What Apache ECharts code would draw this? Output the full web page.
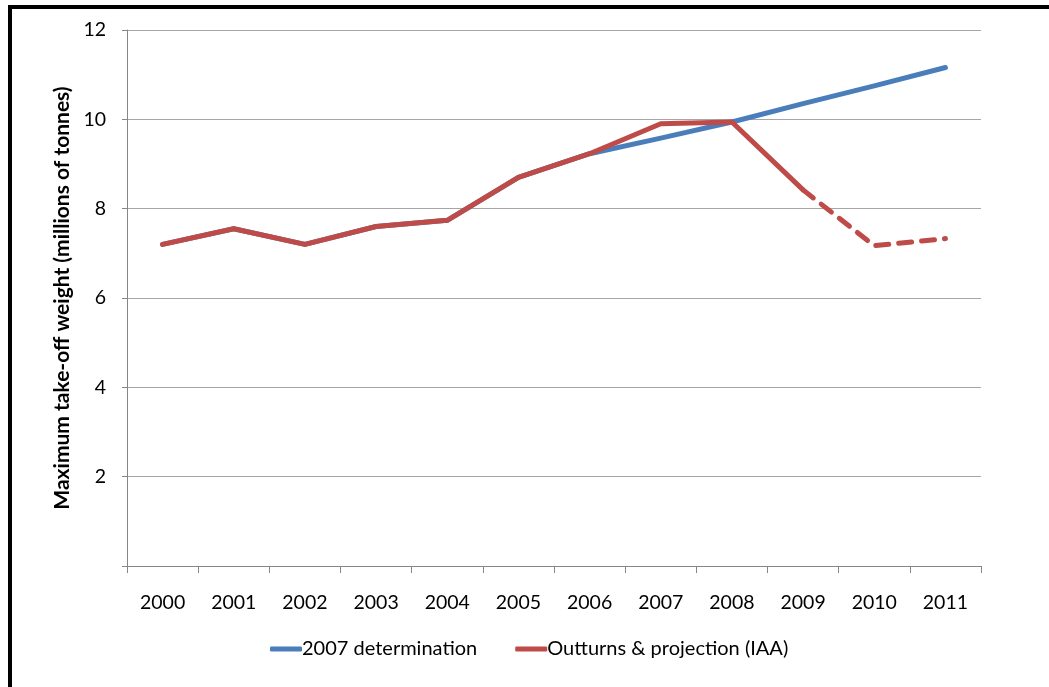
<!DOCTYPE html>
<html>
<head>
<meta charset="utf-8">
<script src="https://cdn.jsdelivr.net/npm/echarts@6/dist/echarts.min.js"></script>
<style>
  html, body { margin: 0; padding: 0; background: #ffffff; }
  #chart { position: absolute; left: 0; top: 0; width: 1049px; height: 687px; }
  #frame {
    position: absolute; left: 8px; top: 5px; width: 1100px; height: 720px;
    border-top: 4px solid #000; border-left: 4px solid #000; pointer-events: none;
  }
</style>
</head>
<body>
<div id="chart"></div>
<div id="frame"></div>
<script>
// Years on the category axis
const years = ['2000', '2001', '2002', '2003', '2004', '2005', '2006', '2007', '2008', '2009', '2010', '2011'];

// 2007 determination (millions of tonnes MTOW)
const determination2007 = [7.20, 7.55, 7.20, 7.60, 7.74, 8.70, 9.23, 9.58, 9.94, 10.35, 10.75, 11.16];

// Outturns (solid) and IAA projection (dashed) — they share the 2009 point
const outturns = [7.20, 7.55, 7.20, 7.60, 7.74, 8.70, 9.23, 9.90, 9.94, 8.42, null, null];
const projection = [null, null, null, null, null, null, null, null, null, 8.42, 7.17, 7.33];

// Value-axis range
const yMin = 0, yMax = 12, yStep = 2;

const FONT = 'Lato, "Noto Sans", sans-serif';
const BLUE = '#4a7ebb';
const RED = '#be4b48';
const AXIS = '#868686';

const chart = echarts.init(document.getElementById('chart'), null, { renderer: 'canvas' });

chart.setOption({
  animation: false,
  backgroundColor: '#ffffff',
  textStyle: { fontFamily: FONT },
  grid: { left: 127, right: 68, top: 30, bottom: 121, containLabel: false },
  legend: {
    left: 265,
    top: 634,
    data: [
      { name: '2007 determination', itemStyle: { color: BLUE } },
      { name: 'Outturns & projection (IAA)', itemStyle: { color: RED } }
    ],
    icon: 'roundRect',
    itemWidth: 32,
    itemHeight: 5,
    itemGap: 38,
    textStyle: { fontFamily: FONT, fontSize: 20, color: '#000', padding: [0, 0, 0, -5] }
  },
  xAxis: {
    type: 'category',
    data: years,
    boundaryGap: true,
    axisLine: { lineStyle: { color: AXIS, width: 1 } },
    axisTick: { show: true, interval: 0, length: 7, lineStyle: { color: AXIS } },
    axisLabel: { color: '#000', fontSize: 19.5, fontFamily: FONT, margin: 27, interval: 0 },
    splitLine: { show: false }
  },
  yAxis: {
    type: 'value',
    min: yMin,
    max: yMax,
    interval: yStep,
    name: 'Maximum take-off weight (millions of tonnes)',
    nameLocation: 'middle',
    nameRotate: 90,
    nameGap: 54,
    nameTextStyle: { color: '#000', fontSize: 21, fontWeight: 'bold', fontFamily: FONT },
    axisLine: { show: true, lineStyle: { color: AXIS, width: 1 } },
    axisTick: { show: true, length: 5, lineStyle: { color: AXIS } },
    axisLabel: {
      color: '#000', fontSize: 19.5, fontFamily: FONT, margin: 21,
      formatter: v => (v === 0 ? '' : String(v))
    },
    splitLine: { show: true, lineStyle: { color: '#a6a6a6', width: 1 } }
  },
  series: [
    {
      name: '2007 determination',
      type: 'line',
      data: determination2007,
      symbol: 'none',
      color: BLUE,
      lineStyle: { color: BLUE, width: 5, cap: 'round', join: 'round' },
      z: 2
    },
    {
      name: 'Outturns & projection (IAA)',
      type: 'line',
      data: outturns,
      symbol: 'none',
      color: RED,
      connectNulls: false,
      lineStyle: { color: RED, width: 5, cap: 'round', join: 'round' },
      z: 3
    },
    {
      name: 'IAA projection',
      type: 'line',
      data: projection,
      symbol: 'none',
      color: RED,
      connectNulls: false,
      lineStyle: { color: RED, width: 5, type: [13, 10], cap: 'round', join: 'round' },
      z: 3
    }
  ]
});
</script>
</body>
</html>
